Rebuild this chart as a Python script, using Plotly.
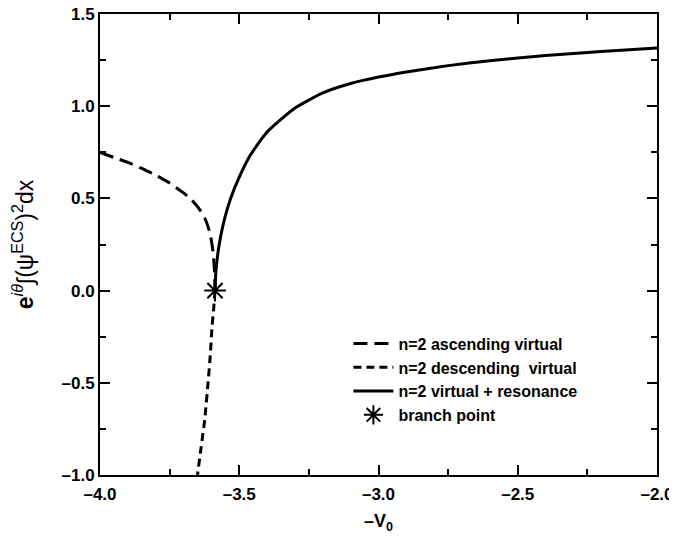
import plotly.graph_objects as go

# ascending virtual (long dashes)
asc_x = [-4.0, -3.95, -3.90, -3.85, -3.80, -3.75, -3.70, -3.67, -3.64, -3.62, -3.605, -3.595, -3.589, -3.587]
asc_y = [0.75, 0.722, 0.695, 0.663, 0.626, 0.583, 0.530, 0.490, 0.435, 0.380, 0.310, 0.220, 0.110, 0.0]

# descending virtual (short dashes)
desc_x = [-3.587, -3.592, -3.598, -3.604, -3.612, -3.624, -3.637, -3.650]
desc_y = [0.0, -0.10, -0.20, -0.35, -0.50, -0.70, -0.85, -1.00]

# virtual + resonance (solid)
res_x = [-3.587, -3.584, -3.577, -3.566, -3.551, -3.531, -3.50, -3.46, -3.40, -3.30,
         -3.20, -3.10, -3.00, -2.90, -2.75, -2.60, -2.40, -2.20, -2.00]
res_y = [0.0, 0.10, 0.20, 0.30, 0.40, 0.50, 0.615, 0.735, 0.860, 0.990,
         1.072, 1.123, 1.158, 1.186, 1.220, 1.247, 1.275, 1.297, 1.315]

branch_x = [-3.587]
branch_y = [0.0]

x_ticks = [-4.0, -3.5, -3.0, -2.5, -2.0]
x_labels = ["–4.0", "–3.5", "–3.0", "–2.5", "–2.0"]
y_ticks = [-1.0, -0.5, 0.0, 0.5, 1.0, 1.5]
y_labels = ["–1.0", "–0.5", "0.0", "0.5", "1.0", "1.5"]

FONT = "Liberation Sans, Arial, sans-serif"
NBSP = "\u00a0"

fig = go.Figure()
fig.add_trace(go.Scatter(x=asc_x, y=asc_y, mode="lines", name="n=2 ascending virtual",
                         line=dict(color="black", width=3, dash="14px,7px", shape="spline", smoothing=0.5)))
fig.add_trace(go.Scatter(x=desc_x, y=desc_y, mode="lines", name="n=2 descending  virtual",
                         line=dict(color="black", width=3, dash="8px,5px", shape="spline", smoothing=0.5)))
fig.add_trace(go.Scatter(x=res_x, y=res_y, mode="lines", name="n=2 virtual + resonance",
                         line=dict(color="black", width=3, shape="spline", smoothing=0.5)))
fig.add_trace(go.Scatter(x=branch_x, y=branch_y, mode="markers", name="branch point",
                         marker=dict(symbol="asterisk-open", size=18, color="black",
                                     line=dict(color="black", width=2))))

axis_common = dict(
    showline=True, linecolor="black", linewidth=2, mirror="ticks",
    ticks="inside", ticklen=10, tickwidth=2, tickcolor="black",
    showgrid=False, zeroline=False, automargin=False,
    tickfont=dict(family=FONT, size=17, color="black", weight="bold"),
)

fig.update_xaxes(range=[-4.0, -2.0], tickvals=x_ticks, ticktext=x_labels,
                 ticklabeloverflow="allow", ticklabelstandoff=3,
                 minor=dict(dtick=0.25, tick0=-4.0, ticks="inside", ticklen=6, tickwidth=2, tickcolor="black"),
                 title=dict(text="–V<sub>0</sub>", font=dict(family=FONT, size=18, color="black", weight="bold"),
                            standoff=11),
                 **axis_common)
fig.update_yaxes(range=[-1.0, 1.5], tickvals=y_ticks, ticktext=y_labels,
                 ticklabeloverflow="allow",
                 minor=dict(dtick=0.25, tick0=-1.0, ticks="inside", ticklen=6, tickwidth=2, tickcolor="black"),
                 title=dict(text="<b>e</b><sup><i>iθ</i></sup>∫(ψ<sup>ECS</sup>)<sup>2</sup>dx" + NBSP * 3,
                            font=dict(family=FONT, size=23, color="black"), standoff=26),
                 **axis_common)

# page body has an 8px default margin, so the figure is sized/margined to compensate
fig.update_layout(
    width=669, height=535,
    margin=dict(l=92, r=20, t=6, b=68, autoexpand=False),
    paper_bgcolor="white", plot_bgcolor="white",
    font=dict(family=FONT, color="black"),
    legend=dict(x=0.446, y=0.322, xanchor="left", yanchor="top",
                bgcolor="rgba(0,0,0,0)", borderwidth=0,
                font=dict(family=FONT, size=16, color="black", weight="bold"),
                tracegroupgap=0, itemwidth=40),
    showlegend=True,
)

fig.write_html("out.html")
